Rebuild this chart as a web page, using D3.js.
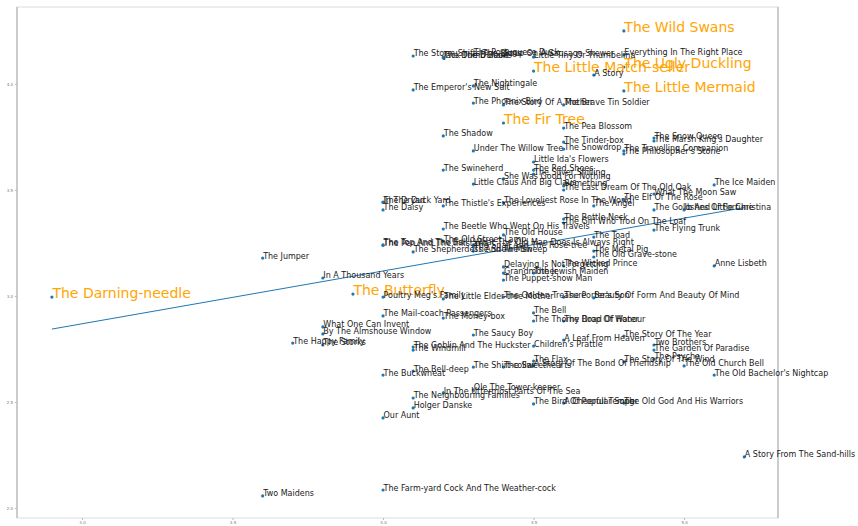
<!DOCTYPE html>
<html>
<head>
<meta charset="utf-8">
<script src="https://cdn.jsdelivr.net/npm/d3@7"></script>
<style>
  body { margin: 0; background: #fff; }
  text { font-family: "DejaVu Sans", sans-serif; }
</style>
</head>
<body>
<div id="chart"></div>
<script>
// story titles, mean x score, mean y score
var titles = [
  "The Darning-needle", "The Butterfly", "The Wild Swans", "The Little Match-seller",
  "The Ugly Duckling", "The Little Mermaid", "The Fir Tree",
  "The Storm Shifts The Signs", "Jack The Dullard", "The Dumb Book", "The Portuguese Duck",
  "Soup On A Sausage Skewer", "Little Tiny Or Thumbelina", "Everything In The Right Place", "A Story",
  "The Emperor's New Suit", "The Nightingale", "The Phoenix Bird", "The Story Of A Mother",
  "The Brave Tin Soldier", "The Pea Blossom", "The Shadow", "The Tinder-box", "The Snowdrop",
  "Under The Willow Tree", "The Snow Queen", "The Marsh King's Daughter", "The Travelling Companion",
  "The Philosopher's Stone", "Little Ida's Flowers", "The Red Shoes", "The Silver Shilling",
  "The Swineherd", "She Was Good For Nothing", "Little Claus And Big Claus", "Something",
  "The Last Dream Of The Old Oak", "What The Moon Saw", "The Ice Maiden", "The Elf Of The Rose",
  "The Loveliest Rose In The World", "The Angel", "In The Duck Yard", "The Dryad", "The Daisy",
  "The Thistle's Experiences", "The Goloshes Of Fortune", "Ib And Little Christina",
  "The Bottle Neck", "The Girl Who Trod On The Loaf", "The Flying Trunk",
  "The Beetle Who Went On His Travels", "The Old House", "The Toad", "The Old Street Lamp",
  "The Top And The Ball", "The Pen And The Inkstand", "What The Old Man Does Is Always Right",
  "The Snail And The Rose-tree", "The Shepherdess And The Sweep", "The Snow Man", "The Metal Pig",
  "The Old Grave-stone", "The Wicked Prince", "Anne Lisbeth", "Delaying Is Not Forgetting",
  "Grandmother", "The Jewish Maiden", "The Puppet-show Man", "The Golden Treasure",
  "The Porter's Son", "Beauty Of Form And Beauty Of Mind", "The Little Elder-tree Mother",
  "The Money-box", "The Bell", "The Thorny Road Of Honour", "The Drop Of Water", "The Saucy Boy",
  "A Leaf From Heaven", "The Story Of The Year", "The Goblin And The Huckster", "The Windmill",
  "Children's Prattle", "Two Brothers", "The Garden Of Paradise", "The Psyche",
  "The Old Church Bell", "The Story Of The Wind", "The Old Bachelor's Nightcap", "The Flax",
  "The Shirt-collar", "The Sweethearts", "A Story Of The Bond Of Friendship", "The Bell-deep",
  "The Buckwheat", "Ole The Tower-keeper", "In The Uttermost Parts Of The Sea",
  "The Neighbouring Families", "Holger Danske", "Our Aunt", "The Bird Of Popular Song",
  "A Cheerful Temper", "The Old God And His Warriors", "A Story From The Sand-hills",
  "The Happy Family", "The Storks", "The Jumper", "Two Maidens", "In A Thousand Years",
  "What One Can Invent", "By The Almshouse Window", "Poultry Meg's Family",
  "The Mail-coach Passengers", "The Farm-yard Cock And The Weather-cock"
];

var xScores = [
  2.9, 3.9, 4.8, 4.5, 4.8, 4.8, 4.4,
  4.1, 4.2, 4.2, 4.3, 4.4, 4.5, 4.8, 4.7,
  4.1, 4.3, 4.3, 4.4, 4.6, 4.6, 4.2, 4.6, 4.6,
  4.3, 4.9, 4.9, 4.8, 4.8, 4.5, 4.5, 4.5,
  4.2, 4.4, 4.3, 4.6, 4.6, 4.9, 5.1, 4.8,
  4.4, 4.7, 4.0, 4.0, 4.0, 4.2, 4.9, 5.0,
  4.6, 4.6, 4.9, 4.2, 4.4, 4.7, 4.2,
  4.0, 4.0, 4.3, 4.3, 4.1, 4.3, 4.7,
  4.7, 4.6, 5.1, 4.4, 4.4, 4.5, 4.4, 4.4,
  4.6, 4.7, 4.2, 4.2, 4.5, 4.5, 4.6, 4.3,
  4.6, 4.8, 4.1, 4.1, 4.5, 4.9, 4.9, 4.9,
  5.0, 4.8, 5.1, 4.5, 4.3, 4.4, 4.5, 4.1,
  4.0, 4.3, 4.2, 4.1, 4.1, 4.0, 4.5,
  4.6, 4.8, 5.2, 3.7, 3.8, 3.6, 3.6, 3.8,
  3.8, 3.8, 4.0, 4.0, 4.0
];

var yScores = [
  2.995, 3.009, 4.250, 4.061, 4.080, 3.967, 3.816,
  4.132, 4.127, 4.123, 4.137, 4.132, 4.127, 4.137, 4.042,
  3.972, 3.991, 3.910, 3.901, 3.901, 3.792, 3.755, 3.726, 3.693,
  3.684, 3.745, 3.731, 3.684, 3.670, 3.632, 3.594, 3.575,
  3.594, 3.552, 3.528, 3.519, 3.500, 3.481, 3.524, 3.453,
  3.439, 3.425, 3.443, 3.441, 3.406, 3.425, 3.406, 3.406,
  3.363, 3.344, 3.311, 3.316, 3.288, 3.278, 3.259,
  3.241, 3.239, 3.241, 3.231, 3.208, 3.212, 3.212,
  3.184, 3.142, 3.142, 3.137, 3.108, 3.108, 3.075, 2.995,
  2.995, 2.991, 2.986, 2.896, 2.920, 2.882, 2.882, 2.816,
  2.792, 2.811, 2.759, 2.745, 2.764, 2.769, 2.745, 2.703,
  2.670, 2.689, 2.627, 2.693, 2.665, 2.665, 2.670, 2.646,
  2.627, 2.557, 2.542, 2.519, 2.472, 2.425, 2.491,
  2.495, 2.495, 2.241, 2.778, 2.769, 3.179, 2.057, 3.085,
  2.854, 2.821, 2.995, 2.906, 2.085
];

var highlighted = ["The Darning-needle", "The Butterfly", "The Wild Swans",
  "The Little Match-seller", "The Ugly Duckling", "The Little Mermaid", "The Fir Tree"];

// fitted trend line
var fitX = [2.9, 5.2];
var fitY = [2.844, 3.417];

var xTicks = [3.0, 3.5, 4.0, 4.5, 5.0];
var yTicks = [2.0, 2.5, 3.0, 3.5, 4.0];

var width = 858, height = 526;
var plot = { left: 17, right: 778, top: 7, bottom: 518 };

var svg = d3.select("#chart").append("svg")
    .attr("width", width)
    .attr("height", height);

var x = d3.scaleLinear().domain([2.784, 5.312]).range([plot.left, plot.right]);
var y = d3.scaleLinear().domain([1.953, 4.363]).range([plot.bottom, plot.top]);

var data = titles.map(function(t, i) {
  return { title: t, x: xScores[i], y: yScores[i], big: highlighted.indexOf(t) >= 0 };
});

// frame
svg.append("rect")
    .attr("x", plot.left).attr("y", plot.top)
    .attr("width", plot.right - plot.left).attr("height", plot.bottom - plot.top)
    .attr("fill", "none").attr("stroke", "#dcdcdc");
svg.append("line")
    .attr("x1", plot.left).attr("x2", plot.left)
    .attr("y1", plot.top).attr("y2", plot.bottom)
    .attr("stroke", "#aaa");
svg.append("line")
    .attr("x1", plot.right).attr("x2", plot.right)
    .attr("y1", plot.top).attr("y2", plot.bottom)
    .attr("stroke", "#aaa");

// axes
var yAxis = svg.append("g")
    .attr("transform", "translate(" + plot.left + ",0)")
    .call(d3.axisLeft(y).tickValues(yTicks).tickSize(2).tickPadding(2).tickFormat(d3.format(".1f")));
var xAxis = svg.append("g")
    .attr("transform", "translate(0," + plot.bottom + ")")
    .call(d3.axisBottom(x).tickValues(xTicks).tickSize(2).tickPadding(1).tickFormat(d3.format(".1f")));
[xAxis, yAxis].forEach(function(a) {
  a.select(".domain").remove();
  a.selectAll(".tick line").attr("stroke", "#bbb");
  a.selectAll(".tick text").attr("fill", "#777").attr("font-size", "4px")
      .attr("font-family", "DejaVu Sans");
});

// trend line
var line = d3.line()
    .x(function(d) { return x(d[0]); })
    .y(function(d) { return y(d[1]); });
svg.append("path")
    .datum(d3.zip(fitX, fitY))
    .attr("d", line)
    .attr("fill", "none")
    .attr("stroke", "#1f77b4")
    .attr("stroke-width", 1);

// points
svg.selectAll("circle.pt")
    .data(data)
    .enter().append("circle")
    .attr("class", "pt")
    .attr("cx", function(d) { return x(d.x); })
    .attr("cy", function(d) { return y(d.y); })
    .attr("r", 1.6)
    .attr("fill", "#1f77b4");

// labels
svg.selectAll("text.lbl")
    .data(data)
    .enter().append("text")
    .attr("class", "lbl")
    .attr("x", function(d) { return x(d.x) + 0.5; })
    .attr("y", function(d) { return y(d.y) + (d.big ? 1 : 0.5); })
    .attr("font-size", function(d) { return d.big ? "14px" : "8px"; })
    .attr("fill", function(d) { return d.big ? "#FFA500" : "#1a1a1a"; })
    .text(function(d) { return d.title; });
</script>
</body>
</html>
